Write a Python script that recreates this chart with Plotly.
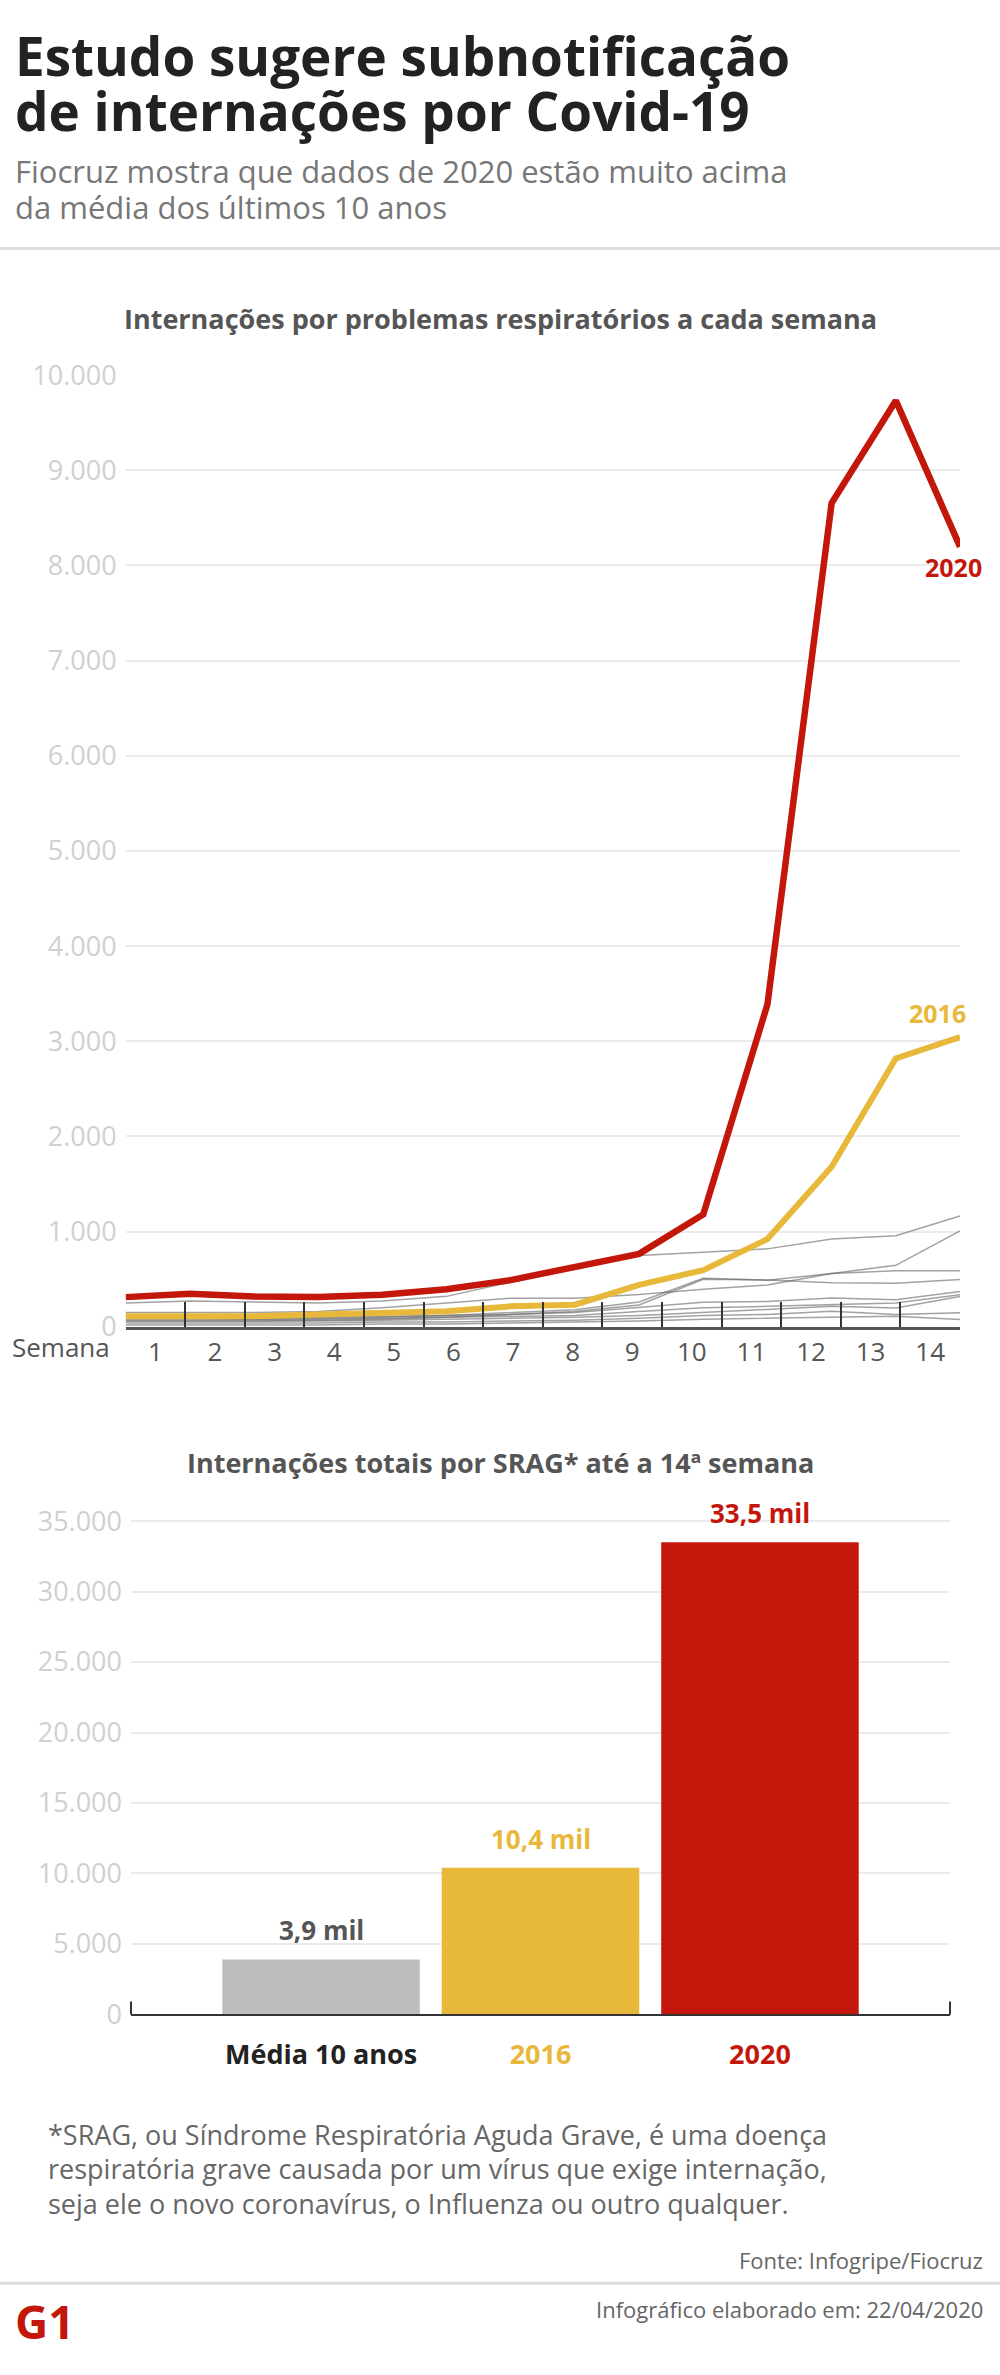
import plotly.graph_objects as go

# ---- dados ----
semanas = list(range(1, 15))
semana_labels = [str(s) for s in semanas]

casos_2020 = [312, 347, 319, 312, 336, 395, 491, 629, 767, 1181, 3388, 8655, 9731, 8197]
casos_2016 = [112, 112, 112, 129, 147, 163, 215, 233, 440, 595, 922, 1681, 2819, 3043]

# outros anos (linhas cinza)
outros_anos = [
    [250, 270, 260, 250, 270, 320, 470, 610, 750, 784, 819, 922, 957, 1164],
    [150, 150, 150, 160, 200, 250, 300, 300, 340, 395, 440, 560, 646, 1008],
    [80, 80, 80, 90, 100, 120, 150, 180, 260, 510, 490, 560, 588, 588],
    [60, 60, 60, 70, 80, 100, 130, 160, 230, 500, 491, 464, 457, 498],
    [120, 110, 100, 100, 110, 120, 130, 150, 200, 257, 267, 302, 284, 370],
    [100, 90, 80, 80, 90, 100, 110, 120, 160, 200, 215, 233, 250, 336],
    [60, 60, 60, 60, 70, 80, 90, 100, 120, 150, 180, 215, 198, 319],
    [40, 40, 40, 40, 50, 50, 60, 70, 90, 120, 130, 164, 129, 147],
    [20, 20, 20, 20, 30, 30, 40, 50, 60, 80, 90, 100, 112, 78],
]

barras_cat = ["Média 10 anos", "2016", "2020"]
barras_val = [3900, 10400, 33500]

RED = "#c4170c"
YELLOW = "#e8b83a"
GRAY_BAR = "#bdbdbd"
FONT = "Open Sans"
H = 2375


def py(px):
    # pixel (de cima) -> coordenada paper
    return 1 - px / H


fig = go.Figure()

for serie in outros_anos:
    fig.add_trace(go.Scatter(
        x=semanas, y=serie, mode="lines",
        line=dict(color="rgba(100,100,100,0.6)", width=1.5),
        hoverinfo="skip", showlegend=False
    ))

fig.add_trace(go.Scatter(
    x=semanas, y=casos_2016, mode="lines", name="2016",
    line=dict(color=YELLOW, width=6), showlegend=False
))
fig.add_trace(go.Scatter(
    x=semanas, y=casos_2020, mode="lines", name="2020",
    line=dict(color=RED, width=6.5), showlegend=False
))

# eixo de rótulos das semanas (categórico, ticks nas divisas)
fig.add_trace(go.Scatter(
    x=semana_labels, y=[0] * len(semana_labels), xaxis="x3", yaxis="y",
    mode="markers", marker=dict(opacity=0), hoverinfo="skip", showlegend=False
))

# barras
fig.add_trace(go.Bar(
    x=barras_cat, y=barras_val, xaxis="x2", yaxis="y2",
    marker=dict(color=[GRAY_BAR, YELLOW, RED], line=dict(width=0)),
    width=0.9, hoverinfo="skip", showlegend=False
))

grid = "#ebebeb"
tick_font = dict(family=FONT, size=27, color="#d0d0d0")

fig.update_layout(
    width=1000, height=H,
    margin=dict(l=0, r=0, t=0, b=0),
    paper_bgcolor="white", plot_bgcolor="white",
    separators=",.",
    font=dict(family=FONT),
    xaxis=dict(
        domain=[0.1256, 0.96], range=[1, 14], anchor="y",
        showticklabels=False, showgrid=False, zeroline=False, showline=False
    ),
    xaxis3=dict(
        type="category", overlaying="x", anchor="y",
        categoryarray=semana_labels, range=[-0.5, 13.5],
        tickson="boundaries", ticks="inside", ticklen=25, tickwidth=2, tickcolor="#333",
        showline=True, linecolor="#555", linewidth=3, showgrid=False, zeroline=False,
        tickfont=dict(family=FONT, size=26, color="#555")
    ),
    yaxis=dict(
        domain=[py(1327.5), py(360.7)], range=[0, 10000], dtick=1000,
        tickformat=",d", gridcolor=grid, gridwidth=2, zeroline=False,
        tickfont=tick_font, ticklabelstandoff=8, anchor="x"
    ),
    xaxis2=dict(
        domain=[0.131, 0.95], anchor="y2", type="category",
        categoryarray=barras_cat, range=[-0.866, 2.866],
        showline=True, linecolor="#333", linewidth=2, ticks="",
        tickvals=barras_cat,
        ticktext=[
            "<b><span style='color:#222'>Média 10 anos</span></b>",
            "<b><span style='color:%s'>2016</span></b>" % YELLOW,
            "<b><span style='color:%s'>2020</span></b>" % RED,
        ],
        tickfont=dict(family=FONT, size=27), ticklabelstandoff=15,
        showgrid=False, zeroline=False
    ),
    yaxis2=dict(
        domain=[py(2026), py(1496.2)], range=[0, 37000], dtick=5000,
        tickformat=",d", gridcolor=grid, gridwidth=2, zeroline=False,
        tickfont=tick_font, ticklabelstandoff=8, anchor="x2"
    ),
)

ann = []
# título e subtítulo
for txt, ypx in [("Estudo sugere subnotificação", 36.5),
                 ("de internações por Covid-19", 91.5)]:
    ann.append(dict(text="<b>" + txt + "</b>", x=0.013, y=py(ypx), xref="paper", yref="paper",
                    xanchor="left", yanchor="middle", showarrow=False,
                    font=dict(family=FONT, size=53, color="#222")))

for txt, ypx in [("Fiocruz mostra que dados de 2020 estão muito acima", 153),
                 ("da média dos últimos 10 anos", 190)]:
    ann.append(dict(text=txt, x=0.013, y=py(ypx), xref="paper", yref="paper",
                    xanchor="left", yanchor="middle", showarrow=False,
                    font=dict(family=FONT, size=31, color="#777")))

# títulos dos gráficos
for txt, ypx in [("Internações por problemas respiratórios a cada semana", 303),
                 ("Internações totais por SRAG* até a 14ª semana", 1465)]:
    ann.append(dict(text="<b>" + txt + "</b>", x=0.5, y=py(ypx), xref="paper", yref="paper",
                    xanchor="center", yanchor="middle", showarrow=False,
                    font=dict(family=FONT, size=27, color="#555")))

ann.append(dict(text="Semana", x=0.112, y=py(1348), xref="paper", yref="paper",
                xanchor="right", yanchor="middle", showarrow=False,
                font=dict(family=FONT, size=26, color="#555")))

# rótulos das linhas
ann.append(dict(text="<b>2020</b>", x=semanas[-1], y=casos_2020[-1], xref="x", yref="y",
                xshift=-7, yshift=-20, showarrow=False,
                font=dict(family=FONT, size=25, color=RED)))
ann.append(dict(text="<b>2016</b>", x=semanas[-1], y=casos_2016[-1], xref="x", yref="y",
                xshift=-23, yshift=24, showarrow=False,
                font=dict(family=FONT, size=25, color=YELLOW)))

# valores das barras (x pelo índice da categoria)
cores_val = ["#555", YELLOW, RED]
for i, (val, cor) in enumerate(zip(barras_val, cores_val)):
    rotulo = ("%.1f mil" % (val / 1000)).replace(".", ",")
    ann.append(dict(text="<b>" + rotulo + "</b>", x=i, y=val, xref="x2", yref="y2",
                    yshift=29, showarrow=False,
                    font=dict(family=FONT, size=26, color=cor)))

# nota e rodapé
nota = ["*SRAG, ou Síndrome Respiratória Aguda Grave, é uma doença",
        "respiratória grave causada por um vírus que exige internação,",
        "seja ele o novo coronavírus, o Influenza ou outro qualquer."]
for i, linha in enumerate(nota):
    ann.append(dict(text=linha, x=0.046, y=py(2148 + i * 35), xref="paper", yref="paper",
                    xanchor="left", yanchor="middle", showarrow=False,
                    font=dict(family=FONT, size=27, color="#666")))

ann.append(dict(text="Fonte: Infogripe/Fiocruz", x=0.985, y=py(2275), xref="paper", yref="paper",
                xanchor="right", yanchor="middle", showarrow=False,
                font=dict(family=FONT, size=22, color="#666")))
ann.append(dict(text="Infográfico elaborado em: 22/04/2020", x=0.985, y=py(2325),
                xref="paper", yref="paper", xanchor="right", yanchor="middle", showarrow=False,
                font=dict(family=FONT, size=22, color="#666")))
ann.append(dict(text="<b>G1</b>", x=0.013, y=py(2337), xref="paper", yref="paper",
                xanchor="left", yanchor="middle", showarrow=False,
                font=dict(family=FONT, size=46, color=RED)))

fig.update_layout(annotations=ann)

# linhas divisórias e marcas nas pontas do eixo das barras
shapes = [
    dict(type="line", xref="paper", yref="paper", x0=0, x1=1, y0=py(232), y1=py(232),
         line=dict(color="#dcdcdc", width=3)),
    dict(type="line", xref="paper", yref="paper", x0=0, x1=1, y0=py(2299), y1=py(2299),
         line=dict(color="#dcdcdc", width=3)),
]
for xd in [0, 1]:
    shapes.append(dict(type="line", xref="x2 domain", yref="y2 domain",
                       x0=xd, x1=xd, y0=0, y1=0.025, line=dict(color="#333", width=2)))
fig.update_layout(shapes=shapes)

fig.write_html("out.html", config={"displayModeBar": False},
               post_script="document.body.style.margin='0';")
